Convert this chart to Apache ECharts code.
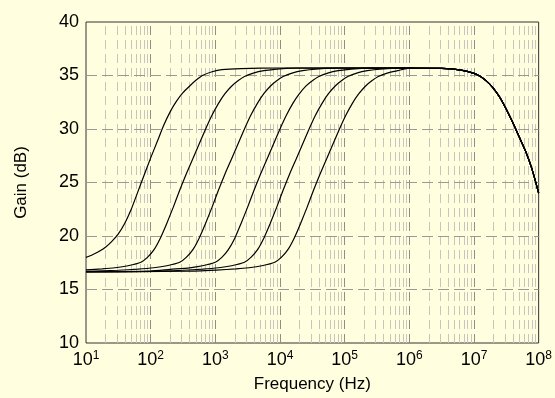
<!DOCTYPE html>
<html><head><meta charset="utf-8">
<script src="https://cdn.jsdelivr.net/npm/echarts/dist/echarts.min.js"></script>
<style>html,body{margin:0;padding:0;background:#ffffe0;}#c{width:555px;height:398px;}</style>
</head><body><div id="c"></div>
<script>
// Tick values
const xTicks = [1e1, 1e2, 1e3, 1e4, 1e5, 1e6, 1e7, 1e8];
const yTicks = [10, 15, 20, 25, 30, 35, 40];

// Curve data (frequency in Hz, gain in dB)
const c1Freq = [10, 12.6, 15.8, 20, 25.1, 31.6, 39.8, 50.1, 63.1, 79.4, 100, 126, 158, 200, 251, 316, 398, 501, 631, 891, 1260, 2510, 10000, 100000];
const c1Gain = [18.0, 18.25, 18.55, 18.95, 19.5, 20.2, 21.2, 22.5, 24.1, 25.7, 27.3, 28.8, 30.3, 31.6, 32.6, 33.4, 34.0, 34.55, 35.0, 35.35, 35.55, 35.65, 35.7, 35.7];

const c2Freq = [10, 17.8, 28.2, 44.7, 70.8, 89.1, 112, 141, 178, 224, 282, 355, 447, 562, 708, 891, 1120, 1410, 1780, 2240, 2820, 3980, 5620, 8910, 17800, 100000];
const c2Gain = [16.83, 16.92, 17.03, 17.22, 17.55, 18.0, 18.7, 19.8, 21.2, 22.7, 24.3, 25.8, 27.2, 28.6, 30.0, 31.3, 32.4, 33.3, 34.0, 34.5, 34.9, 35.25, 35.45, 35.6, 35.68, 35.7];

const c3Freq = [10, 31.6, 63.1, 112, 178, 282, 355, 447, 562, 708, 891, 1120, 1410, 1780, 2240, 2820, 3550, 4470, 5620, 7080, 8910, 11200, 15800, 22400, 35500, 70800, 300000];
const c3Gain = [16.7, 16.8, 16.9, 17.03, 17.22, 17.55, 18.0, 18.7, 19.8, 21.2, 22.7, 24.3, 25.8, 27.2, 28.6, 30.0, 31.3, 32.4, 33.3, 34.0, 34.5, 34.9, 35.25, 35.45, 35.6, 35.68, 35.7];

const c4Freq = [10, 100, 200, 400, 631, 1000, 1260, 1580, 2000, 2510, 3160, 3980, 5010, 6310, 7940, 10000, 12600, 15800, 20000, 25100, 31600, 39800, 56200, 79400, 126000, 251000];
const c4Gain = [16.66, 16.72, 16.88, 17.03, 17.22, 17.55, 18.0, 18.7, 19.8, 21.2, 22.7, 24.3, 25.8, 27.2, 28.6, 30.0, 31.3, 32.4, 33.3, 34.0, 34.5, 34.9, 35.25, 35.45, 35.6, 35.68];

const c5Freq = [10, 100, 316, 631, 1120, 1780, 2820, 3550, 4470, 5620, 7080, 8910, 11200, 14100, 17800, 22400, 28200, 35500, 44700, 56200, 70800, 89100, 112000, 158000, 224000, 355000, 708000];
const c5Gain = [16.65, 16.7, 16.8, 16.9, 17.03, 17.22, 17.55, 18.0, 18.7, 19.8, 21.2, 22.7, 24.3, 25.8, 27.2, 28.6, 30.0, 31.3, 32.4, 33.3, 34.0, 34.5, 34.9, 35.25, 35.45, 35.6, 35.68];

const c6Freq = [10, 371, 1047, 2090, 3310, 5250, 8320, 10470, 13160, 16570, 20900, 26300, 33100, 41700, 52500, 66000, 83200, 104700, 131600, 165700, 209000, 263000, 331000, 468000, 660000];
const c6Gain = [16.65, 16.71, 16.82, 16.92, 17.03, 17.22, 17.55, 18.0, 18.7, 19.8, 21.2, 22.7, 24.3, 25.8, 27.2, 28.6, 30.0, 31.3, 32.4, 33.3, 34.0, 34.5, 34.9, 35.25, 35.45];

// Shared high-frequency roll-off
const tailFreq = [1e6, 3.16e6, 6.31e6, 1e7, 1.26e7, 1.58e7, 2e7, 2.51e7, 3.16e7, 3.98e7, 5.01e7, 6.31e7, 7.94e7, 1e8];
const tailGain = [35.68, 35.66, 35.5, 35.2, 34.9, 34.45, 33.8, 32.95, 31.85, 30.6, 29.25, 27.9, 26.2, 24.0];

const curves = [[c1Freq, c1Gain], [c2Freq, c2Gain], [c3Freq, c3Gain], [c4Freq, c4Gain], [c5Freq, c5Gain], [c6Freq, c6Gain]];

function buildData(f, g) {
  const d = f.map((v, i) => [v, g[i]]);
  return d.concat(tailFreq.map((v, i) => [v, tailGain[i]]));
}

// Gridline positions derived from axis ticks
const majorX = xTicks.slice(1, -1);
const minorX = [];
for (let k = 0; k < xTicks.length - 1; k++) {
  for (let m = 2; m <= 9; m++) minorX.push(xTicks[k] * m);
}
const innerY = yTicks.slice(1, -1);

const FONT = '"Liberation Sans", Arial, Helvetica, sans-serif';
const chart = echarts.init(document.getElementById('c'), null, {renderer: 'canvas'});

const series = [
  {
    type: 'line', data: [], silent: true, z: 1,
    markLine: {
      silent: true, symbol: ['none', 'none'], label: {show: false}, animation: false, z: 1,
      lineStyle: {color: '#c6c6be', width: 1, type: [9, 5]},
      emphasis: {disabled: true},
      data: minorX.map(v => ({xAxis: v}))
    }
  },
  {
    type: 'line', data: [], silent: true, z: 1,
    markLine: {
      silent: true, symbol: ['none', 'none'], label: {show: false}, animation: false, z: 1,
      lineStyle: {color: '#8f8f8a', width: 1, type: [9, 5]},
      emphasis: {disabled: true},
      data: majorX.map(v => ({xAxis: v}))
    }
  },
  {
    type: 'line', data: [], silent: true, z: 1,
    markLine: {
      silent: true, symbol: ['none', 'none'], label: {show: false}, animation: false, z: 1,
      lineStyle: {color: '#9a9a95', width: 1, type: [11, 5]},
      emphasis: {disabled: true},
      data: innerY.map(v => ({yAxis: v}))
    }
  }
];
curves.forEach(([f, g]) => {
  series.push({
    type: 'line', data: buildData(f, g), showSymbol: false, symbol: 'none',
    smooth: 0.2, z: 10, silent: true,
    lineStyle: {color: '#000', width: 1.2}
  });
});

chart.setOption({
  backgroundColor: '#ffffe0',
  animation: false,
  grid: {left: 86, right: 13, top: 22, bottom: 54, show: true, borderColor: '#333', borderWidth: 1, backgroundColor: 'transparent'},
  xAxis: {
    type: 'log', logBase: 10, min: 10, max: 1e8, splitNumber: 7,
    axisLine: {show: false}, axisTick: {show: false}, splitLine: {show: false}, minorSplitLine: {show: false},
    name: 'Frequency (Hz)', nameLocation: 'middle', nameGap: 33,
    nameTextStyle: {fontFamily: FONT, fontSize: 17, color: '#000'},
    axisLabel: {
      margin: 7, color: '#000', fontFamily: FONT,
      formatter: v => '{b|10}{s|' + Math.round(Math.log10(v)) + '}',
      rich: {
        b: {fontFamily: FONT, fontSize: 18, color: '#000', lineHeight: 19, verticalAlign: 'bottom'},
        s: {fontFamily: FONT, fontSize: 12, color: '#000', lineHeight: 12, verticalAlign: 'top'}
      }
    }
  },
  yAxis: {
    type: 'value', min: 10, max: 40, interval: 5,
    axisLine: {show: false}, axisTick: {show: false}, splitLine: {show: false},
    name: 'Gain (dB)', nameLocation: 'middle', nameGap: 56,
    nameTextStyle: {fontFamily: FONT, fontSize: 17, color: '#000'},
    axisLabel: {margin: 7, color: '#000', fontFamily: FONT, fontSize: 18}
  },
  series: series
});
</script></body></html>
